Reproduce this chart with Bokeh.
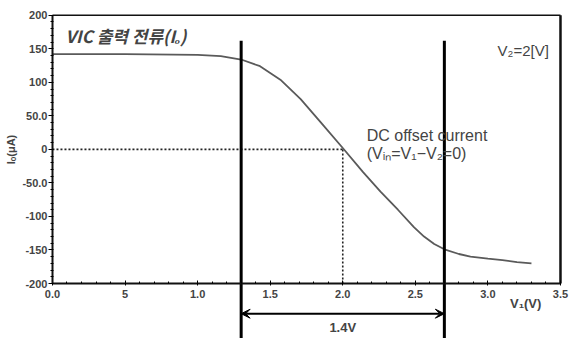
from bokeh.plotting import figure
from bokeh.models import (LinearAxis, FixedTicker, Label, Arrow, VeeHead, ColumnDataSource)
from bokeh.embed import file_html
from bokeh.resources import INLINE

# ---- data ----
v1 = [0.0, 0.5, 1.0, 1.16, 1.3, 1.43, 1.57, 1.71, 1.85, 2.0, 2.14, 2.26, 2.38,
      2.49, 2.56, 2.63, 2.7, 2.8, 2.88, 3.0, 3.1, 3.2, 3.3]
io = [142, 142, 141, 139, 134, 124, 104, 75, 40, 2, -34, -63, -90,
      -116, -130, -141, -149, -156, -160, -163, -165, -168, -170]

x_ticks = [0.0, 0.5, 1.0, 1.5, 2.0, 2.5, 3.0, 3.5]
x_tick_labels = ["0.0", "5", "1.0", "1.5", "2.0", "2.5", "3.0", "3.5"]
y_ticks = [-200, -150, -100, -50, 0, 50, 100, 150, 200]
y_tick_labels = ["-200", "-150", "-100", "-50.0", "0", "50.0", "100", "150", "200"]

window_left, window_right = 1.3, 2.7   # 1.4 V window
offset_v = 2.0

p = figure(width=570, height=338, x_range=(-0.358, 3.569), y_range=(-282, 222),
           output_backend="svg", toolbar_location=None,
           x_axis_location=None, y_axis_location=None,
           min_border_left=0, min_border_right=0, min_border_top=0, min_border_bottom=0)
p.outline_line_color = None
p.xgrid.visible = False
p.ygrid.visible = False
p.background_fill_color = "white"
p.border_fill_color = "white"

FONT = "Liberation Sans"

# y axis at x = 0
ya = LinearAxis(fixed_location=0)
ya.ticker = FixedTicker(ticks=y_ticks, minor_ticks=list(range(-200, 201, 10)))
ya.major_label_overrides = {t: s for t, s in zip(y_ticks, y_tick_labels)}
ya.bounds = (-200, 200)
ya.axis_label = "I\u2092(\u03bcA)"
ya.axis_label_text_font = FONT
ya.axis_label_text_font_style = "bold"
ya.axis_label_text_font_size = "11px"
ya.axis_label_standoff = 2
ya.major_label_text_font = FONT
ya.major_label_text_font_style = "bold"
ya.major_label_text_font_size = "11px"
ya.major_label_standoff = 1
ya.major_tick_out = 4
ya.major_tick_in = 0
ya.minor_tick_out = 2
ya.minor_tick_in = 1
ya.axis_line_width = 2
ya.axis_line_color = "#111111"
p.add_layout(ya, "left")

# x axis at y = -200
xa = LinearAxis(fixed_location=-200)
xa.ticker = FixedTicker(ticks=x_ticks, minor_ticks=[i / 10 for i in range(0, 36)])
xa.major_label_overrides = {t: s for t, s in zip(x_ticks, x_tick_labels)}
xa.bounds = (0, 3.5)
xa.major_label_text_font = FONT
xa.major_label_text_font_style = "bold"
xa.major_label_text_font_size = "11px"
xa.major_label_standoff = 4
xa.major_tick_in = 3
xa.major_tick_out = 2
xa.minor_tick_in = 2
xa.minor_tick_out = 0
xa.axis_line_width = 2
xa.axis_line_color = "#111111"
p.add_layout(xa, "below")

# top and right border of the chart box
p.segment(x0=[0, 3.5], y0=[200, -200], x1=[3.5, 3.5], y1=[200, 200],
          line_color="#111111", line_width=[1.5, 2.5])

# dotted zero-offset guides
p.segment(x0=[0, offset_v], y0=[0, 0], x1=[offset_v, offset_v], y1=[0, -200],
          line_color="#222222", line_width=1.6, line_dash="2 2")

# curve
src = ColumnDataSource(dict(x=v1, y=io))
p.line("x", "y", source=src, line_color="#5a5a5a", line_width=1.8)

# thick vertical window lines
p.segment(x0=[window_left, window_right], y0=[162, 162],
          x1=[window_left, window_right], y1=[-300, -300],
          line_color="black", line_width=3)

# double-headed arrow
p.add_layout(Arrow(x_start=window_left, y_start=-245, x_end=window_right, y_end=-245,
                   line_width=2, line_color="black",
                   start=VeeHead(size=9, fill_color="black", line_color="black"),
                   end=VeeHead(size=9, fill_color="black", line_color="black")))

# texts
p.add_layout(Label(x=0.09, y=170, text="VIC 출력 전류(I\u2092)", text_font="Noto Sans CJK KR",
                   text_font_style="bold italic", text_font_size="17px",
                   text_baseline="middle", text_align="left"))
p.add_layout(Label(x=3.42, y=148, text="V\u2082=2[V]", text_font=FONT,
                   text_font_size="15px", text_baseline="middle", text_align="right"))
p.add_layout(Label(x=2.165, y=20, text="DC offset current", text_font=FONT,
                   text_font_size="16px", text_baseline="middle", text_align="left"))
p.add_layout(Label(x=2.165, y=-6, text="(V\u1d62\u2099=V\u2081\u2212V\u2082=0)", text_font=FONT,
                   text_font_size="16px", text_baseline="middle", text_align="left"))
p.add_layout(Label(x=3.26, y=-230, text="V\u2081(V)", text_font=FONT,
                   text_font_style="bold", text_font_size="13px",
                   text_baseline="middle", text_align="center"))
p.add_layout(Label(x=offset_v, y=-266, text="1.4V", text_font=FONT,
                   text_font_style="bold", text_font_size="13px",
                   text_baseline="middle", text_align="center"))

open("out.html", "w").write(file_html(p, INLINE))
